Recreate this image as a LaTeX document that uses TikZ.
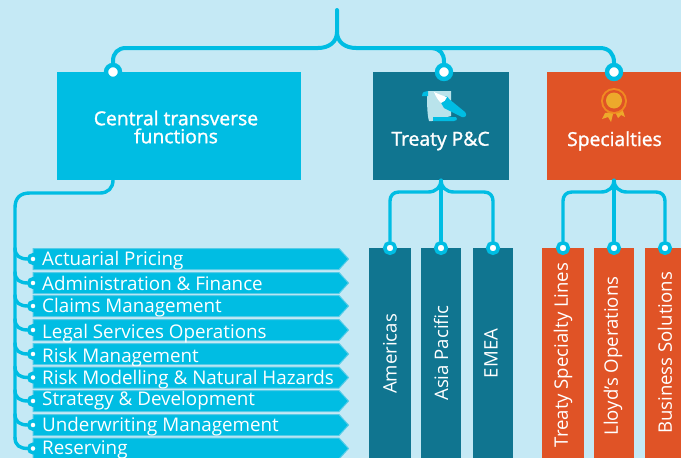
\documentclass[tikz,border=0pt]{standalone}
\usepackage{fontspec}
\setmainfont{Open Sans}
\newfontfamily\semib[FakeBold=1.4]{Open Sans}
\definecolor{bgc}{HTML}{C5E9F5}
\definecolor{cyanc}{HTML}{00BDE3}
\definecolor{rowedge}{HTML}{55CCE8}
\definecolor{tealc}{HTML}{107590}
\definecolor{orangec}{HTML}{E05326}
\definecolor{golda}{HTML}{EDA92B}
\definecolor{goldb}{HTML}{F08A21}
\definecolor{paperc}{HTML}{B9E3EB}
\tikzset{
  wire/.style={draw=cyanc,line width=4pt,line cap=round,line join=round},
  thinwire/.style={draw=cyanc,line width=3.4pt,line cap=round,line join=round},
  headbox/.style={rectangle,minimum height=108pt,inner sep=0pt,text=white,align=center},
  bar/.style={rectangle,inner sep=0pt,minimum height=210pt},
  barlabel/.style={rotate=90,text=white,inner sep=0pt,font=\fontsize{18.6}{18.6}\selectfont},
  headtext/.style={text=white,align=center,inner sep=0pt,font=\semib\fontsize{19.3}{18}\selectfont},
  bigdot/.style={circle,fill=white,draw=cyanc,line width=4.4pt,minimum size=14pt,inner sep=0pt},
  smalldot/.style={circle,fill=white,draw=cyanc,line width=3.6pt,minimum size=10.5pt,inner sep=0pt},
  rowdot/.style={circle,fill=white,draw=cyanc,line width=3.4pt,minimum size=8.5pt,inner sep=0pt},
  rowtext/.style={anchor=west,text=white,inner sep=0pt,font=\fontsize{18.8}{18.8}\selectfont},
}
\begin{document}
\begin{tikzpicture}[x=1pt,y=-1pt]
\fill[bgc] (0,0) rectangle (681,458);
\clip (0,0) rectangle (681,458);
\useasboundingbox (0,0) rectangle (681,458);
% head boxes
\node[headbox,fill=cyanc,minimum width=244pt] (central) at (179,126) {};
\node[headbox,fill=tealc,minimum width=136pt] (treaty) at (441,126) {};
\node[headbox,fill=orangec,minimum width=136pt] (spec) at (615,126) {};
\node[headtext] (centraltext) at (176,127) {Central transverse\\functions};
\node[headtext] (treatytext) at (440.5,141) {Treaty P\&C};
\node[headtext] (spectext) at (614.5,141) {Specialties};
% bars
\node[bar,fill=tealc,minimum width=42pt] (b1) at (390,353) {};
\node[bar,fill=tealc,minimum width=40pt] (b2) at (441,353) {};
\node[bar,fill=tealc,minimum width=40pt] (b3) at (493,353) {};
\node[bar,fill=orangec,minimum width=42pt] (b4) at (563,353) {};
\node[bar,fill=orangec,minimum width=40pt] (b5) at (614,353) {};
\node[bar,fill=orangec,minimum width=42pt] (b6) at (666,353) {};
\node[barlabel] (l1) at (390,354) {Americas};
\node[barlabel] (l2) at (441,353) {Asia Pacific};
\node[barlabel] (l3) at (491,353.5) {EMEA};
\node[barlabel] (l4) at (563,355) {Treaty Specialty Lines};
\node[barlabel] (l5) at (613,356) {Lloyd's Operations};
\node[barlabel] (l6) at (665,353) {Business Solutions};
% top tree
\coordinate (root) at (337,10);
\coordinate (fork) at (337,32);
\node[bigdot] (d1) at (113,72) {};
\node[bigdot] (d2) at (444,72) {};
\node[bigdot] (d3) at (614,72) {};
\draw[wire] (root) -- (fork) .. controls (337,42) and (329,48) .. (318,48) -- (126,48) .. controls (118,48) and (113,53) .. (113,61) -- (d1.north);
\draw[wire] (fork) .. controls (337,42) and (345,48) .. (356,48) -- (600,48) .. controls (609,48) and (614,54) .. (614,62) -- (d3.north);
\draw[wire] (432,48) .. controls (440,49) and (444,53) .. (444,62) -- (d2.north);
% treaty tree
\node[smalldot] (s1) at (390,248) {};
\node[smalldot] (s2) at (441,248) {};
\node[smalldot] (s3) at (493,248) {};
\node[smalldot] (s4) at (563,248) {};
\node[smalldot] (s5) at (614,248) {};
\node[smalldot] (s6) at (665,248) {};
\coordinate (tt) at (s2 |- treaty.south);
\coordinate (st) at (s5 |- spec.south);
\draw[thinwire] (tt) -- (s2.north);
\draw[thinwire] (tt) .. controls (441,187) and (436,192) .. (428,192) -- (399,192) .. controls (393,192) and (390,196) .. (390,201) -- (s1.north);
\draw[thinwire] (tt) .. controls (441,187) and (446,192) .. (454,192) -- (484,192) .. controls (490,192) and (493,196) .. (493,201) -- (s3.north);
\draw[thinwire] (st) -- (s5.north);
\draw[thinwire] (st) .. controls (614,187) and (609,192) .. (601,192) -- (572,192) .. controls (566,192) and (563,196) .. (563,201) -- (s4.north);
\draw[thinwire] (st) .. controls (614,187) and (619,192) .. (627,192) -- (656,192) .. controls (662,192) and (665,196) .. (665,201) -- (s6.north);
% left rows
\coordinate (ct) at (113,180);
\foreach \i/\y/\yt/\t in {1/259/261/Actuarial Pricing,2/283/283.5/Administration \& Finance,3/306/308/Claims Management,4/330/333.5/Legal Services Operations,5/354/357.5/Risk Management,6/377.5/379.5/Risk Modelling \& Natural Hazards,7/401/400.5/Strategy \& Development,8/425/427/Underwriting Management,9/448.5/450/Reserving}{
  \draw[fill=cyanc,draw=rowedge,line width=1pt] (33,\y-10.5) -- (339,\y-10.5) -- (348.5,\y) -- (339,\y+10.5) -- (33,\y+10.5) -- cycle;
  \node[rowtext] (r\i) at (42,\yt) {\t};
  \node[rowdot] (o\i) at (33,\y) {};
  \draw[thinwire] (15,\y-11) .. controls (15,\y-3) and (20,\y) .. (28,\y) -- (o\i.west);
}
\draw[thinwire] (ct) .. controls (113,188) and (108,193) .. (100,193) -- (30,193) .. controls (20,193) and (15,198) .. (15,208) -- (15,438);
% scroll icon
\fill[paperc] (427,91) -- (451,91) -- (451,116) -- (432,121) -- (429,121) .. controls (427,115) and (427,100) .. (427,91) -- cycle;
\fill[cyanc] (422,96) .. controls (422,92) and (425,91) .. (428,91) -- (428,96) -- cycle;
\fill[cyanc] (433,117) -- (456,117) .. controls (458,120) and (456,121) .. (454,121) -- (433,121) -- cycle;
\fill[cyanc] (440,97) .. controls (445,95) and (448,96) .. (449,99) -- (465,112) .. controls (468,115) and (465,118) .. (462,117) -- (444,108) .. controls (442,105) and (440,102) .. (440,97) -- cycle;
\fill[white] (434,92) -- (441,95) -- (447,97) .. controls (446,100) and (444,102) .. (441,103) .. controls (438,100) and (436,97) .. (434,92) -- cycle;
% medal icon
\fill[golda] (605,113) -- (602,119) -- (608,117) -- (611,122) -- (613.5,112) -- cycle;
\fill[golda] (615,112) -- (618,118) -- (621,115) -- (625,117) -- (622,108) -- cycle;
\fill[goldb] (614,101) circle (13);
\fill[orangec] (614,101) circle (11);
\fill[golda] (614,100.5) circle (8);
\end{tikzpicture}
\end{document}
